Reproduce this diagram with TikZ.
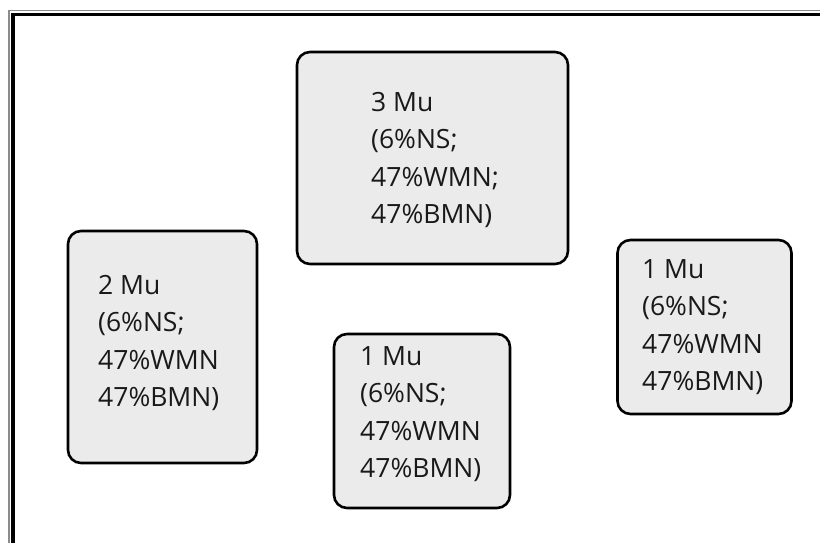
\documentclass[tikz,border=0pt]{standalone}
\usepackage{fontspec}
\setmainfont{Open Sans}
\definecolor{boxfill}{HTML}{EBEBEB}
\definecolor{framegray}{HTML}{8C8C8C}
\tikzset{
  mubox/.style={draw=black, line width=2.6pt, fill=boxfill, rounded corners=13pt, inner sep=0pt},
  mutext/.style={anchor=west, inner sep=0pt, align=left, text=black!90, font=\fontsize{26.5}{37.3}\selectfont}
}
\begin{document}
\begin{tikzpicture}[x=1pt,y=-1pt]
\useasboundingbox (0,0) rectangle (820,543);
\fill[white] (0,0) rectangle (820,543);
% frame
\draw[framegray, line width=1.5pt] (9,543) -- (9,10.5) -- (820,10.5);
\draw[black, line width=3.5pt] (13,543) -- (13,14.5) -- (820,14.5);
% boxes
\node[mubox, minimum width=271pt, minimum height=212pt] (b3) at (432.5,158) {};
\node[mubox, minimum width=189pt, minimum height=232pt] (b2) at (162.5,347) {};
\node[mubox, minimum width=176pt, minimum height=174pt] (b1m) at (422,421) {};
\node[mubox, minimum width=174pt, minimum height=174pt] (b1r) at (704.5,327) {};
% texts
\node[mutext] (t3) at (371,160) {3 Mu\\(6\%NS;\\47\%WMN;\\47\%BMN)};
\node[mutext] (t2) at (98,343) {2 Mu\\(6\%NS;\\47\%WMN\\47\%BMN)};
\node[mutext] (t1m) at (360,414) {1 Mu\\(6\%NS;\\47\%WMN\\47\%BMN)};
\node[mutext] (t1r) at (642,327) {1 Mu\\(6\%NS;\\47\%WMN\\47\%BMN)};
\end{tikzpicture}
\end{document}
